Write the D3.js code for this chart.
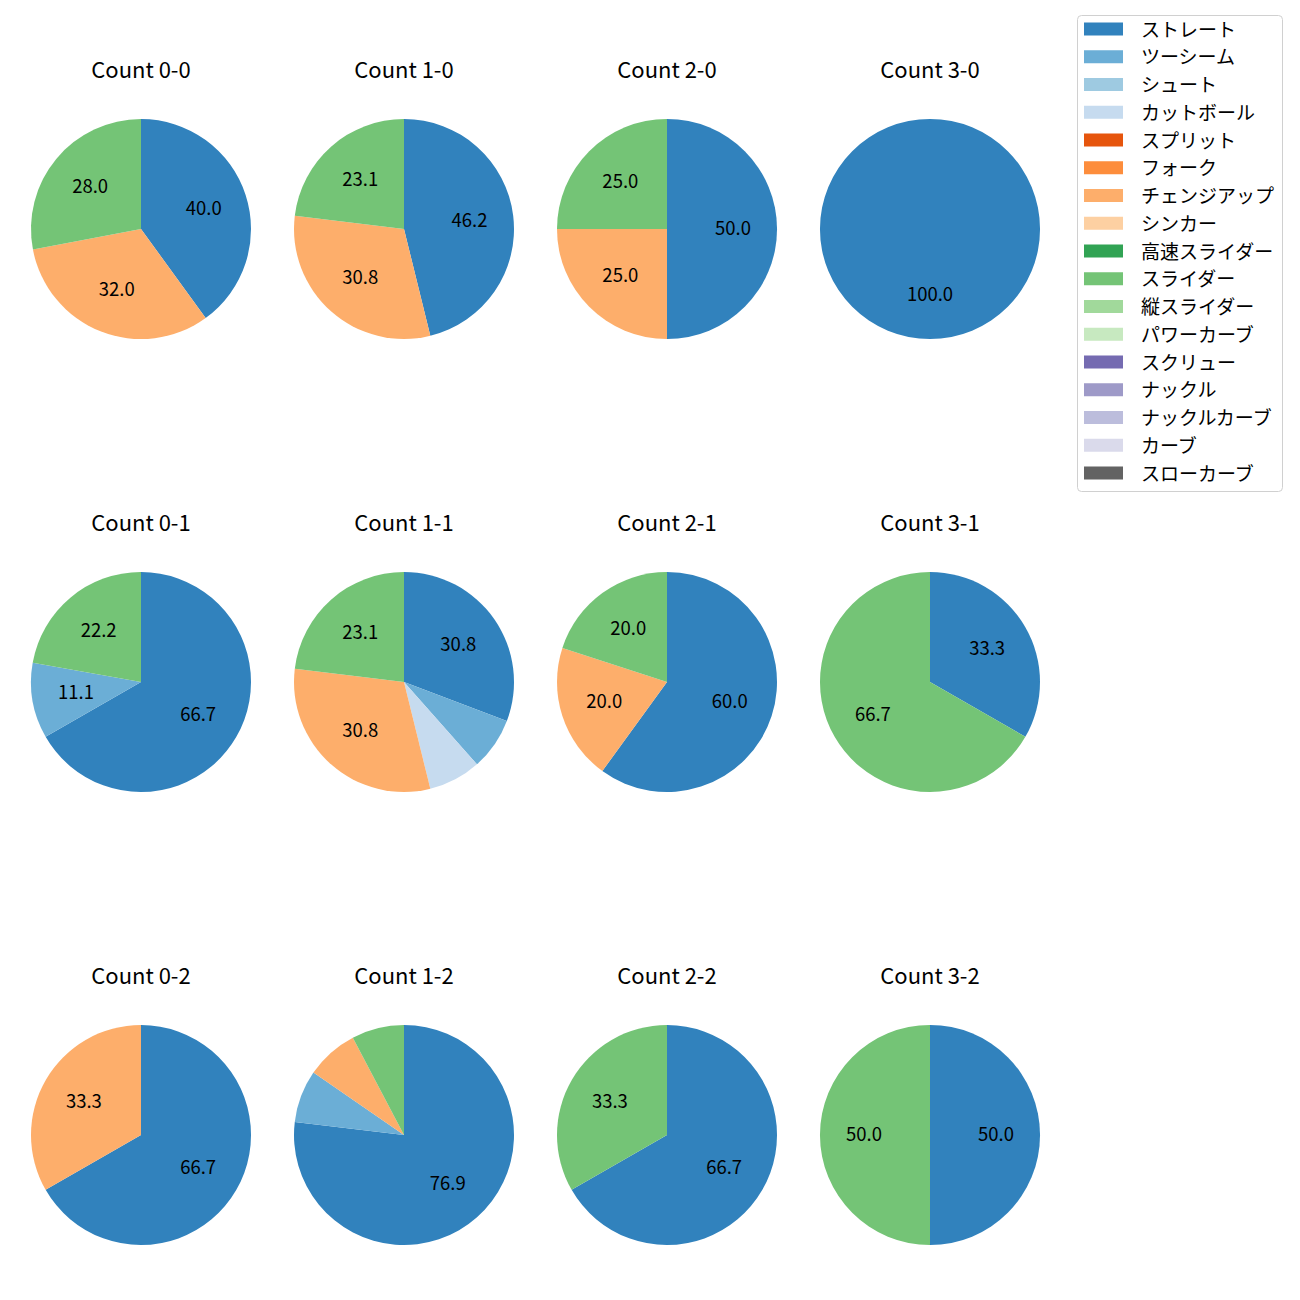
<!DOCTYPE html>
<html><head><meta charset="utf-8">
<script src="https://cdn.jsdelivr.net/npm/d3@7"></script>
<style>body{margin:0;background:#fff;} text{font-family:"Noto Sans CJK JP","Noto Sans",sans-serif;}</style>
</head><body>
<svg id="chart" width="1300" height="1300"></svg>
<script>
const pitchTypes = ["ストレート","ツーシーム","シュート","カットボール","スプリット","フォーク","チェンジアップ","シンカー","高速スライダー","スライダー","縦スライダー","パワーカーブ","スクリュー","ナックル","ナックルカーブ","カーブ","スローカーブ"];
const pitchColors = ["#3182bd","#6baed6","#9ecae1","#c6dbef","#e6550d","#fd8d3c","#fdae6b","#fdd0a2","#31a354","#74c476","#a1d99b","#c7e9c0","#756bb1","#9e9ac8","#bcbddc","#dadaeb","#636363"];
const countLabels = ["Count 0-0","Count 1-0","Count 2-0","Count 3-0","Count 0-1","Count 1-1","Count 2-1","Count 3-1","Count 0-2","Count 1-2","Count 2-2","Count 3-2"];
// share (%) per count, in countLabels order
const straight = [40.0, 46.2, 50.0, 100.0, 66.7, 30.8, 60.0, 33.3, 66.7, 76.9, 66.7, 50.0];
const twoSeam  = [0, 0, 0, 0, 11.1, 7.7, 0, 0, 0, 7.7, 0, 0];
const cutBall  = [0, 0, 0, 0, 0, 7.7, 0, 0, 0, 0, 0, 0];
const changeUp = [32.0, 30.8, 25.0, 0, 0, 30.8, 20.0, 0, 33.3, 7.7, 0, 0];
const slider   = [28.0, 23.1, 25.0, 0, 22.2, 23.1, 20.0, 66.7, 0, 7.7, 33.3, 50.0];

const seriesByType = {"ストレート": straight, "ツーシーム": twoSeam, "カットボール": cutBall, "チェンジアップ": changeUp, "スライダー": slider};

const svg = d3.select("#chart");
const color = d3.scaleOrdinal().domain(pitchTypes).range(pitchColors);
const colX = d3.scalePoint().domain([0,1,2,3]).range([141, 930]);
const rowY = d3.scalePoint().domain([0,1,2]).range([229, 1135]);
const R = 110;
const pie = d3.pie().sort(null).value(d => d.v).startAngle(0).endAngle(2*Math.PI);
const arc = d3.arc().innerRadius(0).outerRadius(R);
const labelArc = d3.arc().innerRadius(R*0.6).outerRadius(R*0.6);

countLabels.forEach((lab, i) => {
  const cx = colX(i % 4), cy = rowY(Math.floor(i / 4));
  const data = pitchTypes.map(p => ({p, v: seriesByType[p] ? seriesByType[p][i] : 0})).filter(d => d.v > 0);
  const g = svg.append("g").attr("transform", `translate(${cx},${cy})`);
  const arcs = pie(data);
  g.selectAll("path").data(arcs).join("path").attr("d", arc).attr("fill", d => color(d.data.p));
  g.selectAll("text.lbl").data(arcs.filter(d => d.data.v >= 10)).join("text")
    .attr("class","lbl")
    .attr("transform", d => { const c = labelArc.centroid(d); return `translate(${c[0]},${c[1]-2})`; })
    .attr("text-anchor","middle").attr("dominant-baseline","central")
    .attr("font-size", 18.5).attr("fill","#000")
    .text(d => d.data.v.toFixed(1));
  svg.append("text").attr("x", cx).attr("y", cy - 161).attr("text-anchor","middle")
    .attr("dominant-baseline","central").attr("font-size", 22).attr("fill","#000").text(lab);
});

// legend
const lg = svg.append("g");
lg.append("rect").attr("x",1077.5).attr("y",15.5).attr("width",205).attr("height",476).attr("rx",4)
  .attr("fill","#fff").attr("stroke","#d0d0d0").attr("stroke-width",1);
const legY = d3.scaleLinear().domain([0, pitchTypes.length-1]).range([29, 473]);
pitchTypes.forEach((p, k) => {
  lg.append("rect").attr("x",1084).attr("y",legY(k)-6.5).attr("width",39).attr("height",13).attr("fill",color(p));
  lg.append("text").attr("x",1141).attr("y",legY(k)-1).attr("dominant-baseline","central")
    .attr("font-size",19).attr("fill","#000").text(p);
});
</script>
</body></html>
